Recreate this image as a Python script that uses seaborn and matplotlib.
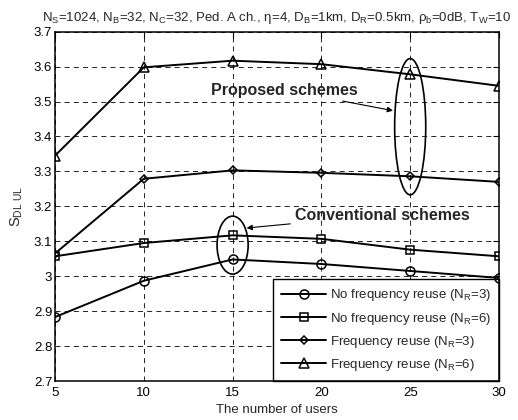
## load packages
import numpy as np
import pandas as pd
import matplotlib

matplotlib.use("Agg")
import matplotlib.pyplot as plt
from matplotlib.patches import Ellipse
from matplotlib.ticker import FuncFormatter
import seaborn as sns

## data
users = [5, 10, 15, 20, 25, 30]
nfr_nr3 = [2.883, 2.987, 3.048, 3.035, 3.015, 2.995]
nfr_nr6 = [3.057, 3.095, 3.117, 3.107, 3.076, 3.057]
fr_nr3 = [3.065, 3.279, 3.303, 3.296, 3.286, 3.270]
fr_nr6 = [3.345, 3.598, 3.617, 3.607, 3.578, 3.545]

labels = [
    "No frequency reuse (N$_R$=3)",
    "No frequency reuse (N$_R$=6)",
    "Frequency reuse (N$_R$=3)",
    "Frequency reuse (N$_R$=6)",
]
markers = ["o", "s", "D", "^"]
msizes = [6.5, 6.0, 4.5, 6.5]

title = ("N$_S$=1024, N$_B$=32, N$_C$=32, Ped. A ch., \u03b7=4, D$_B$=1km, "
         "D$_R$=0.5km, \u03c1$_b$=0dB, T$_W$=10")

df = pd.DataFrame({
    "users": users * 4,
    "value": nfr_nr3 + nfr_nr6 + fr_nr3 + fr_nr6,
    "scheme": np.repeat(labels, len(users)),
})

## set theme
sns.set_theme(style="white")
plt.rcParams["font.family"] = ["Liberation Sans", "DejaVu Sans"]
plt.rcParams["mathtext.default"] = "regular"

fs = 9.5
fig = plt.figure(figsize=(5.18, 4.2), dpi=100)
ax = fig.add_axes([55 / 518, 1 - 381 / 420, 444 / 518, 349.3 / 420])

for lab, mk, ms in zip(labels, markers, msizes):
    sns.lineplot(
        data=df[df.scheme == lab], x="users", y="value", ax=ax,
        color="black", marker=mk, markersize=ms, markerfacecolor="none",
        markeredgecolor="black", markeredgewidth=1.1, linewidth=1.4,
        label=lab,
    )

ax.set_xlim(5, 30)
ax.set_ylim(2.7, 3.7)
ax.set_xticks([5, 10, 15, 20, 25, 30])
ax.set_yticks(np.round(np.arange(2.7, 3.71, 0.1), 1))
ax.yaxis.set_major_formatter(FuncFormatter(lambda v, p: "%g" % round(v, 1)))
ax.tick_params(direction="in", length=4, width=0.8, colors="black",
               labelsize=fs, top=True, right=True, pad=2)
ax.tick_params(axis="x", pad=4)
ax.grid(True, color="black", linestyle=(0, (6, 5)), linewidth=0.6)
for s in ax.spines.values():
    s.set_color("black")
    s.set_linewidth(1.1)

ax.set_xlabel("The number of users", fontsize=fs, labelpad=4)
ax.set_ylabel("S$_{DL\\ UL}$", fontsize=fs + 1, labelpad=6)
ax.set_title(title, fontsize=fs, pad=8)

## annotations
ax.add_patch(Ellipse((25, 3.428), 1.75, 0.39, fill=False, edgecolor="black",
                     linewidth=1.2))
ax.add_patch(Ellipse((15, 3.089), 1.75, 0.166, fill=False, edgecolor="black",
                     linewidth=1.2))
ax.annotate("Proposed schemes", xy=(24.03, 3.474), xytext=(22.06, 3.533),
            fontsize=11.5, fontweight="bold", ha="right", va="center",
            arrowprops=dict(arrowstyle="-|>", color="black", lw=0.8,
                            shrinkA=1, shrinkB=0, mutation_scale=8))
ax.annotate("Conventional schemes", xy=(15.79, 3.138), xytext=(18.51, 3.175),
            fontsize=11.5, fontweight="bold", ha="left", va="center",
            arrowprops=dict(arrowstyle="-|>", color="black", lw=0.8,
                            shrinkA=1, shrinkB=0, mutation_scale=8))

leg = ax.legend(loc="lower right", fontsize=fs, frameon=True, fancybox=False,
                edgecolor="black", framealpha=1, borderaxespad=0,
                handlelength=3.4, handletextpad=0.3, labelspacing=0.55,
                borderpad=0.6)
leg.get_frame().set_linewidth(1.0)
# keep the data lines drawn over the legend box, as in the reference
leg.set_zorder(1.5)

plt.savefig("out.png", dpi=100)
plt.close()
